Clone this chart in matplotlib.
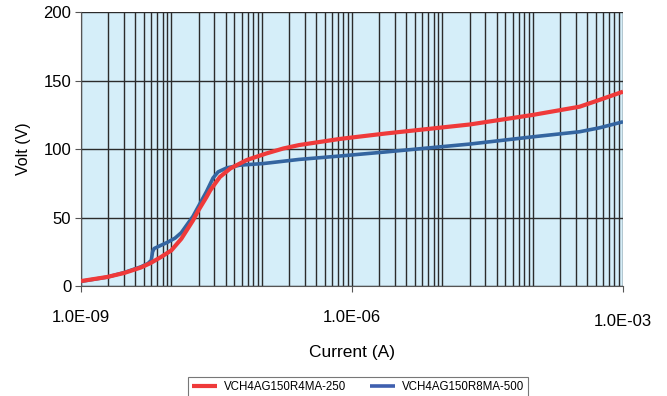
import matplotlib
matplotlib.use("Agg")
import matplotlib.pyplot as plt
from matplotlib.ticker import LogLocator, FixedLocator, NullFormatter
from matplotlib.transforms import ScaledTranslation

plt.rcParams['font.family'] = ['Liberation Sans', 'DejaVu Sans']

# Data
red_label = "VCH4AG150R4MA-250"
red_current = [1.0e-9, 1.95e-9, 3.0e-9, 4.6e-9, 5.9e-9, 7.6e-9, 1.0e-8, 1.29e-8,
               1.74e-8, 2.0e-8, 2.45e-8, 2.7e-8, 3.45e-8, 4.5e-8, 6.8e-8, 1.12e-7,
               1.74e-7, 2.6e-7, 7.4e-7, 2.4e-6, 2.0e-5, 1.0e-4, 3.3e-4, 5.5e-4,
               1.0e-3]
red_volt = [3.6, 6.6, 9.5, 13.5, 16.8, 21, 26, 34.5, 48, 55.4, 65, 70, 79.7, 85.9,
            92, 96.8, 100.5, 103, 107.5, 111.5, 118, 125, 131, 136, 142]

blue_label = "VCH4AG150R8MA-500"
blue_current = [1.0e-9, 1.95e-9, 3.0e-9, 4.6e-9, 5.5e-9, 6.0e-9, 6.2e-9, 6.45e-9,
                9.1e-9, 1.1e-8, 1.29e-8, 1.74e-8, 2.45e-8, 2.9e-8, 3.3e-8, 4.1e-8,
                5.75e-8, 1.05e-7, 2.6e-7, 7.4e-7, 2.4e-6, 2.0e-5, 1.0e-4, 3.3e-4,
                5.5e-4, 1.0e-3]
blue_volt = [3.4, 6.5, 9.8, 14, 16.4, 18.8, 25, 27.4, 32, 35, 39, 51, 69, 79,
             83.4, 86.3, 88.3, 89.5, 92.5, 95, 98, 103.7, 109, 112.7, 115.6, 120]

x_ticks = [1e-9, 1e-6, 1e-3]
x_tick_labels = ["1.0E-09", "1.0E-06", "1.0E-03"]
y_ticks = [0, 50, 100, 150, 200]

fig = plt.figure(figsize=(6.67, 3.96), dpi=100)
ax = fig.add_axes([81/667, (396-286)/396, (623-81)/667, (286-12.3)/396])
ax.set_facecolor('#D5EEF9')

ax.set_xscale('log')
ax.set_xlim(1e-9, 1e-3)
ax.set_ylim(0, 200)

grid_color = '#2b2b2b'
ax.xaxis.set_major_locator(FixedLocator(x_ticks))
ax.set_xticklabels(x_tick_labels)
ax.xaxis.set_minor_locator(LogLocator(base=10, subs=range(1, 10), numticks=100))
ax.xaxis.set_minor_formatter(NullFormatter())
ax.set_yticks(y_ticks)

ax.grid(True, which='both', axis='x', color=grid_color, linewidth=1.0)
ax.grid(True, which='major', axis='y', color=grid_color, linewidth=1.0)
ax.set_axisbelow(True)

ax.tick_params(axis='x', which='minor', length=0)
ax.tick_params(axis='x', which='major', length=4, color='#555555', pad=13, labelsize=12)
ax.tick_params(axis='y', which='major', length=4, color='#555555', pad=3, labelsize=12)

for s in ['top', 'right']:
    ax.spines[s].set_visible(False)
ax.spines['left'].set_color('#555555')
ax.spines['bottom'].set_color('#555555')

ax.plot(red_current, red_volt, color='#EF3A3A', linewidth=3.0, label=red_label,
        solid_capstyle='butt', solid_joinstyle='round', zorder=4)
ax.plot(blue_current, blue_volt, color='#3465A0', linewidth=2.6, label=blue_label,
        solid_capstyle='butt', solid_joinstyle='round', zorder=3)

ax.set_xlabel("Current (A)", fontsize=12.5, labelpad=12)
ax.set_ylabel("Volt (V)", fontsize=11.5, labelpad=9)

# last x tick label sits slightly lower in the reference
lbl = ax.get_xticklabels()[2]
lbl.set_transform(lbl.get_transform() + ScaledTranslation(0, -4/100, fig.dpi_scale_trans))

h, l = ax.get_legend_handles_labels()
leg = fig.legend(h, l, loc='upper center', bbox_to_anchor=(358/667, (396-377)/396),
                 borderaxespad=0.0,
                 ncol=2, fontsize=8.3, frameon=True, fancybox=False, handlelength=2.2,
                 columnspacing=2.0, borderpad=0.35, handletextpad=0.6)
leg.get_frame().set_edgecolor('#555555')
leg.get_frame().set_linewidth(0.8)
leg.legend_handles[1].set_color('#3F5FAF')

fig.savefig('out.png', dpi=100)
